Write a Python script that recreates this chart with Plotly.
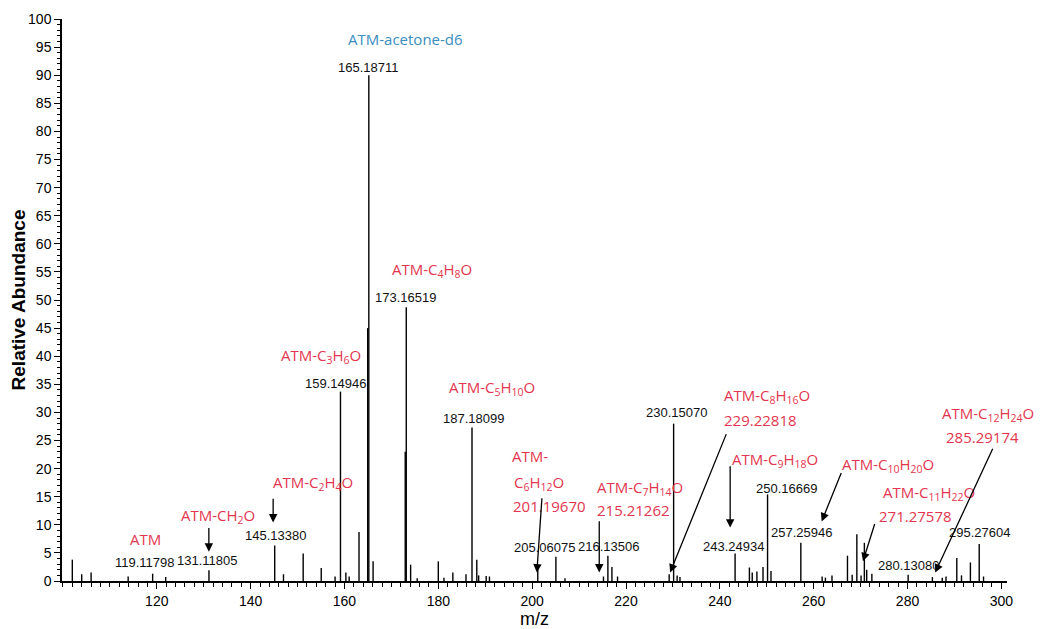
import plotly.graph_objects as go

# ---------------- data ----------------
mz = [102.0, 104.0, 106.0, 113.9, 119.12, 121.9, 131.12, 145.13, 147.0, 151.2,
      155.05, 158.0, 159.15, 160.3, 161.0, 163.1, 164.95, 165.19, 166.1, 172.95,
      173.17, 174.1, 175.5, 180.0, 181.2, 183.1, 185.9, 187.18, 188.2, 188.6,
      190.2, 190.9, 201.2, 205.06, 207.0, 215.2, 216.14, 217.0, 218.2, 229.2,
      230.15, 230.9, 231.5, 243.25, 246.3, 246.9, 247.9, 249.2, 250.17, 250.9,
      257.26, 261.8, 262.5, 263.9, 267.2, 268.2, 269.2, 270.1, 270.8, 271.3,
      272.4, 280.13, 285.3, 287.4, 288.2, 290.5, 291.5, 293.4, 295.28, 296.2]
intensity = [3.8, 1.2, 1.5, 0.8, 1.3, 0.7, 1.9, 6.3, 1.2, 4.9,
             2.3, 0.8, 33.7, 1.5, 0.8, 8.7, 45.0, 90.0, 3.5, 23.0,
             48.7, 2.9, 0.5, 3.5, 0.6, 1.5, 1.2, 27.3, 3.8, 1.0,
             0.9, 0.8, 2.6, 4.3, 0.5, 0.8, 4.5, 2.5, 0.8, 1.2,
             28.0, 1.0, 0.7, 4.9, 2.4, 1.5, 1.7, 2.5, 15.4, 1.8,
             6.8, 0.8, 0.6, 1.0, 4.5, 1.1, 8.3, 1.0, 6.8, 2.0,
             1.3, 1.1, 0.7, 0.6, 0.8, 4.1, 1.0, 3.3, 6.6, 0.8]

x_ticks = [120, 140, 160, 180, 200, 220, 240, 260, 280, 300]
y_ticks = list(range(0, 101, 5))

RED = "#e2364f"
BLUE = "#3a8dc0"
BLACK = "#111111"

# labels: (text, m/z, abundance, colour, size)
labels = [
    ("ATM-acetone-d6", 173.1, 96.4, BLUE, 15),
    ("165.18711", 165.2, 91.4, BLACK, 13),
    ("ATM-C<sub>4</sub>H<sub>8</sub>O", 178.6, 55.4, RED, 15),
    ("173.16519", 173.1, 50.4, BLACK, 13),
    ("ATM-C<sub>3</sub>H<sub>6</sub>O", 155.0, 40.0, RED, 15),
    ("159.14946", 158.0, 35.1, BLACK, 13),
    ("ATM-C<sub>5</sub>H<sub>10</sub>O", 191.4, 34.3, RED, 15),
    ("187.18099", 187.4, 29.0, BLACK, 13),
    ("230.15070", 230.7, 29.9, BLACK, 13),
    ("ATM-C<sub>8</sub>H<sub>16</sub>O", 250.1, 33.0, RED, 15),
    ("229.22818", 248.6, 28.6, RED, 15),
    ("ATM-C<sub>9</sub>H<sub>18</sub>O", 251.7, 21.6, RED, 15),
    ("250.16669", 254.1, 16.5, BLACK, 13),
    ("ATM-C<sub>10</sub>H<sub>20</sub>O", 275.9, 20.6, RED, 15),
    ("ATM-C<sub>11</sub>H<sub>22</sub>O", 284.6, 15.6, RED, 15),
    ("271.27578", 281.8, 11.5, RED, 15),
    ("ATM-C<sub>12</sub>H<sub>24</sub>O", 297.2, 29.8, RED, 15),
    ("285.29174", 295.9, 25.7, RED, 15),
    ("ATM-", 199.5, 22.2, RED, 15),
    ("C<sub>6</sub>H<sub>12</sub>O", 201.5, 17.5, RED, 15),
    ("201.19670", 203.8, 13.3, RED, 15),
    ("ATM-C<sub>7</sub>H<sub>14</sub>O", 223.0, 16.6, RED, 15),
    ("215.21262", 221.7, 12.7, RED, 15),
    ("ATM-C<sub>2</sub>H<sub>4</sub>O", 153.3, 17.5, RED, 15),
    ("ATM-CH<sub>2</sub>O", 133.0, 11.5, RED, 15),
    ("ATM", 117.6, 7.4, RED, 15),
    ("145.13380", 145.2, 8.1, BLACK, 13),
    ("131.11805", 130.9, 3.6, BLACK, 13),
    ("119.11798", 117.4, 3.3, BLACK, 13),
    ("205.06075", 202.6, 6.0, BLACK, 13),
    ("216.13506", 216.2, 6.1, BLACK, 13),
    ("243.24934", 243.0, 6.1, BLACK, 13),
    ("257.25946", 257.3, 8.6, BLACK, 13),
    ("280.13080", 280.1, 2.8, BLACK, 13),
    ("295.27604", 295.3, 8.6, BLACK, 13),
]

# arrows: (tail m/z, tail abundance, head m/z, head abundance)
arrows = [
    (131.1, 9.7, 131.1, 5.2),
    (144.8, 14.9, 144.8, 10.4),
    (202.1, 15.0, 201.0, 1.5),
    (214.3, 10.9, 214.3, 1.5),
    (241.5, 26.4, 229.4, 1.5),
    (242.2, 20.7, 242.2, 9.5),
    (266.0, 19.5, 261.7, 10.6),
    (273.1, 10.4, 270.5, 3.5),
    (298.3, 23.8, 285.9, 1.5),
]

# ---------------- figure ----------------
xs, ys = [], []
for m, i in zip(mz, intensity):
    xs += [m, m, None]
    ys += [0, i, None]

fig = go.Figure()
fig.add_trace(go.Scatter(x=xs, y=ys, mode="lines",
                         line=dict(color="black", width=1.4),
                         hoverinfo="skip", showlegend=False))

TICKFONT = dict(family="Liberation Sans, Arial", size=14, color="black")

annotations = []
for text, m, i, col, sz in labels:
    fam = TICKFONT["family"] if col == BLACK else "Open Sans, Noto Sans, sans-serif"
    annotations.append(dict(x=m, y=i, xref="x", yref="y", text=text, showarrow=False,
                            font=dict(family=fam, size=sz, color=col),
                            xanchor="center", yanchor="middle"))
for tx, ty, hx, hy in arrows:
    annotations.append(dict(x=hx, y=hy, ax=tx, ay=ty, xref="x", yref="y",
                            axref="x", ayref="y", text="", showarrow=True,
                            arrowhead=2, arrowsize=1.3, arrowwidth=1.3,
                            arrowcolor="black"))

# the page body has an 8px margin, so the figure is sized to fit the window
fig.update_layout(
    width=1034, height=621, autosize=False,
    margin=dict(l=54, r=35, t=11, b=48),
    paper_bgcolor="white", plot_bgcolor="white",
    annotations=annotations,
    xaxis=dict(range=[99.8, 301.2], tickvals=x_ticks, ticks="outside", ticklen=6,
               tickwidth=1.3, tickcolor="black", showline=True, linecolor="black",
               linewidth=1.5, showgrid=False, zeroline=False, tickfont=TICKFONT,
               automargin=False,
               minor=dict(dtick=2, tick0=0, ticks="outside", ticklen=4,
                          tickcolor="black", tickwidth=1),
               title=dict(text="m/z", standoff=6,
                          font=dict(family="Liberation Sans, Arial", size=18, color="black"))),
    yaxis=dict(range=[0, 100], tickvals=y_ticks, ticks="outside", ticklen=6,
               tickwidth=1.3, tickcolor="black", showline=True, linecolor="black",
               linewidth=1.5, showgrid=False, zeroline=False, tickfont=TICKFONT,
               automargin=False,
               minor=dict(dtick=1, tick0=0, ticks="outside", ticklen=3,
                          tickcolor="black", tickwidth=1),
               title=dict(text="<b>Relative Abundance</b>", standoff=4,
                          font=dict(family="Liberation Sans, Arial", size=19, color="black"))),
)

fig.write_html("out.html")
